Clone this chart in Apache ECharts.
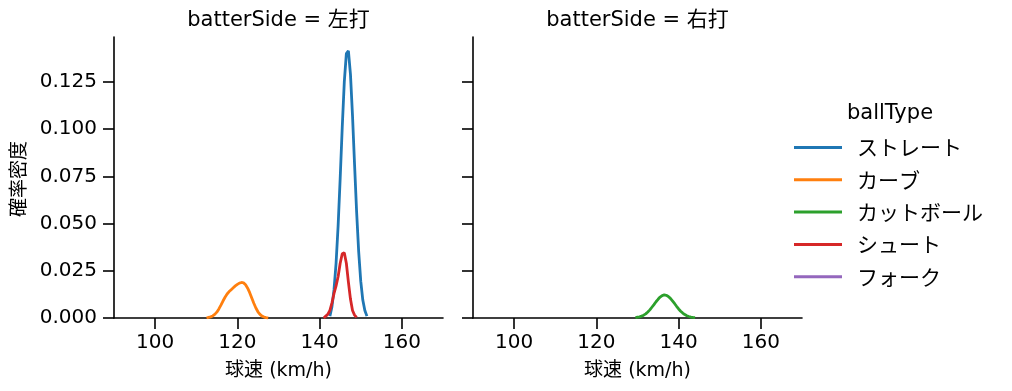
<!DOCTYPE html>
<html><head><meta charset="utf-8">
<script src="https://cdn.jsdelivr.net/npm/echarts@6/dist/echarts.min.js"></script>
<style>html,body{margin:0;padding:0;background:#fff}#c{width:1012px;height:391px}</style>
</head><body><div id="c"></div>
<script>
const FONT = '"DejaVu Sans", "Noto Sans CJK JP", sans-serif';
const JFONT = '"Noto Sans CJK JP", "DejaVu Sans", sans-serif';
const panels = ['左打', '右打'];
const seriesNames = ['ストレート', 'カーブ', 'カットボール', 'シュート', 'フォーク'];
const colors = ['#1f77b4', '#ff7f0e', '#2ca02c', '#d62728', '#9467bd'];
const xTicks = [100, 120, 140, 160];
const yTicks = [0, 0.025, 0.05, 0.075, 0.1, 0.125];

// 左打
const straightX = [142.5,143,143.5,144,144.5,145,145.5,146,146.5,147,147.5,148,148.5,149,149.5,150,150.5,151,151.5];
const straightY = [0.0010,0.0060,0.0150,0.0290,0.0490,0.0740,0.1010,0.1250,0.1400,0.1415,0.1290,0.1070,0.0810,0.0560,0.0350,0.0195,0.0095,0.0040,0.0010];
const curveX = [112.5,113,113.5,114,114.5,115,115.5,116,116.5,117,117.5,118,118.5,119,119.5,120,120.5,121,121.5,122,122.5,123,123.5,124,124.5,125,125.5,126,126.5,127,127.5];
const curveY = [0.0000,0.0003,0.0006,0.0011,0.0019,0.0031,0.0048,0.0068,0.0090,0.0110,0.0127,0.0140,0.0150,0.0160,0.0170,0.0178,0.0185,0.0188,0.0186,0.0176,0.0158,0.0134,0.0106,0.0078,0.0053,0.0033,0.0019,0.0010,0.0005,0.0002,0.0000];
const shootX = [141,141.5,142,142.5,143,143.5,144,144.5,145,145.5,146,146.5,147,147.5,148,148.5,149];
const shootY = [0.0000,0.0010,0.0020,0.0040,0.0080,0.0130,0.0170,0.0220,0.0290,0.0340,0.0345,0.0290,0.0190,0.0100,0.0040,0.0015,0.0003];
// 右打
const cutterX = [129.5,130,130.5,131,131.5,132,132.5,133,133.5,134,134.5,135,135.5,136,136.5,137,137.5,138,138.5,139,139.5,140,140.5,141,141.5,142,142.5,143,143.5,144];
const cutterY = [0.0002,0.0004,0.0006,0.0010,0.0015,0.0022,0.0032,0.0043,0.0057,0.0071,0.0086,0.0099,0.0111,0.0119,0.0122,0.0120,0.0114,0.0104,0.0091,0.0077,0.0062,0.0048,0.0036,0.0026,0.0018,0.0012,0.0008,0.0005,0.0003,0.0002];

function pairs(xs, ys){ return xs.map((x,i)=>[x, ys[i]]); }

const chart = echarts.init(document.getElementById('c'), null, {renderer:'canvas'});
const gridTop = 37, gridH = 281, gridW = 329;
const lefts = [114, 473];

const axisLineStyle = {color:'#000', width:1.6};
function xAxis(i){
  return {type:'value', gridIndex:i, min:90, max:170,
    axisLine:{show:true, onZero:false, lineStyle:axisLineStyle},
    axisTick:{show:true, length:11, lineStyle:axisLineStyle, customValues:xTicks},
    axisLabel:{color:'#000', fontSize:20, fontFamily:FONT, margin:15, customValues:xTicks},
    splitLine:{show:false}};
}
function yAxis(i){
  return {type:'value', gridIndex:i, min:0, max:0.1488,
    axisLine:{show:true, lineStyle:axisLineStyle},
    axisTick:{show:true, length:11, lineStyle:axisLineStyle, customValues:yTicks},
    axisLabel:{show:i===0, color:'#000', fontSize:20, fontFamily:FONT, margin:17, customValues:yTicks,
      formatter:v=>v.toFixed(3)},
    splitLine:{show:false}};
}
function line(name, idx, data, axis){
  return {type:'line', name, xAxisIndex:axis, yAxisIndex:axis, data, showSymbol:false, symbol:'none',
    smooth:false, lineStyle:{color:colors[idx], width:2.8}, itemStyle:{color:colors[idx]},
    emphasis:{disabled:true}, animation:false, z:2};
}

const option = {
  animation:false,
  grid: lefts.map(l=>({left:l, top:gridTop, width:gridW, height:gridH})),
  xAxis:[xAxis(0), xAxis(1)],
  yAxis:[yAxis(0), yAxis(1)],
  legend:{orient:'vertical', left:789, top:132, itemWidth:48, itemHeight:3, itemGap:11.3, icon:'rect',
    data:seriesNames, textStyle:{fontSize:21, fontFamily:JFONT, color:'#000', lineHeight:21, padding:[0,0,0,10]},
    selectedMode:false},
  graphic:[
    {type:'text', x:lefts[0]+gridW/2, y:21, style:{text:'batterSide = '+panels[0], font:'21px '+FONT, fill:'#000', align:'center', verticalAlign:'middle'}},
    {type:'text', x:lefts[1]+gridW/2, y:21, style:{text:'batterSide = '+panels[1], font:'21px '+FONT, fill:'#000', align:'center', verticalAlign:'middle'}},
    {type:'text', x:lefts[0]+gridW/2, y:371, style:{text:'球速 (km/h)', font:'19px '+FONT, fill:'#000', align:'center', verticalAlign:'middle'}},
    {type:'text', x:lefts[1]+gridW/2, y:371, style:{text:'球速 (km/h)', font:'19px '+FONT, fill:'#000', align:'center', verticalAlign:'middle'}},
    {type:'text', x:18, y:179, rotation:Math.PI/2, style:{text:'確率密度', font:'19px '+JFONT, fill:'#000', align:'center', verticalAlign:'middle'}},
    {type:'text', x:890, y:114, style:{text:'ballType', font:'21px '+FONT, fill:'#000', align:'center', verticalAlign:'middle'}}
  ],
  series:[
    line(seriesNames[0], 0, pairs(straightX, straightY), 0),
    line(seriesNames[1], 1, pairs(curveX, curveY), 0),
    line(seriesNames[2], 2, pairs(cutterX, cutterY), 1),
    line(seriesNames[3], 3, pairs(shootX, shootY), 0),
    line(seriesNames[4], 4, [], 0)
  ]
};
chart.setOption(option);
</script></body></html>
